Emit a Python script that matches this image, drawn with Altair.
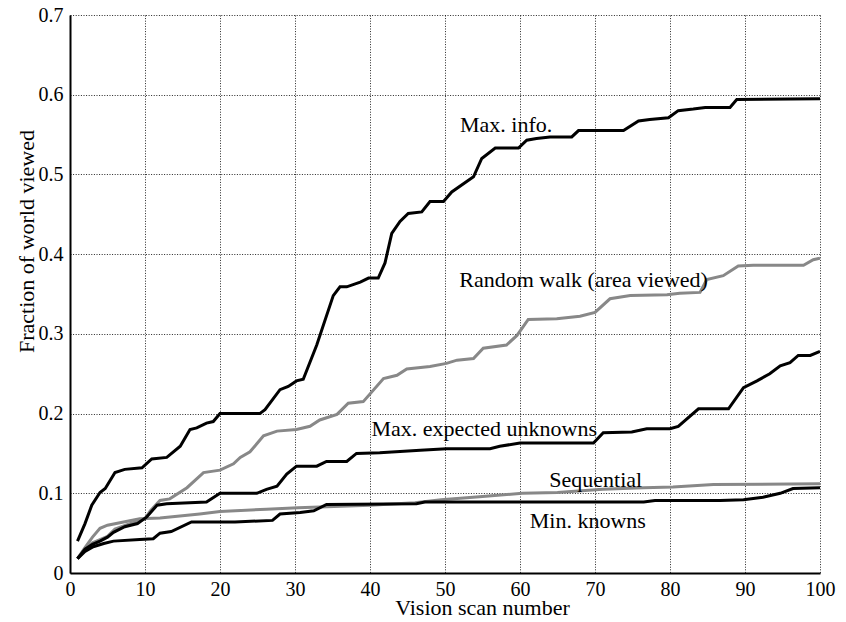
import altair as alt
import pandas as pd

# ---- axis ticks ----
x_ticks = [0, 10, 20, 30, 40, 50, 60, 70, 80, 90, 100]
y_ticks = [0, 0.1, 0.2, 0.3, 0.4, 0.5, 0.6, 0.7]

# ---- series (vertices) ----
maxinfo_x = [1, 2, 2.9, 4, 4.7, 6, 7.3, 9.6, 10.9, 12.9, 14.7, 16, 16.9, 18.2, 19.1, 20, 25.3, 26, 28, 29.1,
             30.2, 31.1, 32.9, 35.1, 36, 36.9, 38.7, 39.8, 41.1, 42, 42.9, 44, 45.1, 46.9, 48, 49.8, 50.9,
             53.8, 54.9, 56.7, 59.8, 60.9, 62.2, 64, 66.9, 67.8, 73.8, 75.8, 77.3, 79.8, 81.1, 83.1, 84.7,
             88, 88.9, 100]
maxinfo_y = [0.04, 0.062, 0.085, 0.101, 0.106, 0.126, 0.13, 0.132, 0.143, 0.145, 0.159, 0.18, 0.182, 0.188,
             0.19, 0.2, 0.2, 0.205, 0.23, 0.234, 0.241, 0.243, 0.286, 0.348, 0.359, 0.359, 0.365, 0.37, 0.37,
             0.389, 0.426, 0.441, 0.451, 0.453, 0.466, 0.466, 0.478, 0.497, 0.52, 0.533, 0.533, 0.543, 0.545,
             0.547, 0.547, 0.555, 0.555, 0.567, 0.569, 0.571, 0.58, 0.582, 0.584, 0.584, 0.594, 0.595]

random_x = [1, 2, 3, 4, 5, 6, 8, 10, 10.7, 12, 13.3, 15.6, 17.8, 20, 21.8, 22.7, 24, 25.8, 27.6, 30.2, 32,
            33.3, 35.6, 37.1, 39.1, 41.8, 43.6, 44.9, 48, 50.2, 51.6, 53.8, 55.1, 58.2, 59.6, 61.1, 64.9, 68,
            70, 72, 74.7, 79.6, 81.3, 84, 84.9, 87.1, 89.1, 91.1, 97.8, 99.1, 100]
random_y = [0.018, 0.03, 0.038, 0.042, 0.046, 0.055, 0.062, 0.068, 0.078, 0.091, 0.093, 0.107, 0.126, 0.129,
            0.137, 0.145, 0.152, 0.172, 0.178, 0.18, 0.184, 0.192, 0.199, 0.213, 0.215, 0.244, 0.248, 0.256,
            0.259, 0.263, 0.267, 0.269, 0.282, 0.286, 0.298, 0.318, 0.319, 0.322, 0.327, 0.344, 0.348, 0.349,
            0.351, 0.352, 0.368, 0.373, 0.385, 0.386, 0.386, 0.393, 0.395]

maxexp_x = [1, 2, 3, 4, 5, 5.8, 7.3, 9, 10.2, 11.6, 12.9, 18.2, 20, 24.9, 26.2, 27.6, 28.9, 30.2, 32.9, 34.2,
            36.9, 38.2, 41.3, 46.7, 50.2, 56, 57.3, 60, 69.8, 71.1, 74.9, 76.9, 80, 81.1, 83.8, 87.8, 89.8,
            91.6, 93.3, 94.7, 96, 97.1, 98.7, 100]
maxexp_y = [0.018, 0.03, 0.036, 0.04, 0.045, 0.051, 0.058, 0.062, 0.07, 0.085, 0.087, 0.089, 0.1, 0.1, 0.105,
            0.109, 0.124, 0.134, 0.134, 0.14, 0.14, 0.15, 0.151, 0.154, 0.156, 0.156, 0.159, 0.163, 0.163,
            0.176, 0.177, 0.181, 0.181, 0.184, 0.206, 0.206, 0.2325, 0.241, 0.25, 0.26, 0.264, 0.273, 0.273,
            0.278]

seq_x = [1, 2, 3, 4, 5, 9.3, 12, 17.3, 20, 26.2, 30.4, 40, 46, 49.5, 55, 60.3, 65, 71, 76.5, 80.4, 85.8, 100]
seq_y = [0.018, 0.032, 0.045, 0.056, 0.06, 0.068, 0.069, 0.074, 0.077, 0.08, 0.082, 0.085, 0.088, 0.092,
         0.096, 0.1, 0.101, 0.105, 0.107, 0.108, 0.111, 0.112]

minkn_x = [1, 2, 3.1, 4.5, 5.8, 9.3, 11.1, 12, 13.5, 16.2, 22, 27, 28, 30.7, 32.5, 34.2, 46.2, 47.3, 76.5,
           78, 86.7, 89.8, 92.4, 94.7, 96.4, 100]
minkn_y = [0.018, 0.027, 0.033, 0.037, 0.04, 0.042, 0.043, 0.05, 0.052, 0.064, 0.064, 0.066, 0.074, 0.076,
           0.078, 0.086, 0.087, 0.089, 0.089, 0.091, 0.091, 0.092, 0.095, 0.1, 0.106, 0.107]

series_names = ["Sequential", "Random walk", "Min. knowns", "Max. expected unknowns", "Max. info."]
series_colors = ["#888888", "#888888", "#000000", "#000000", "#000000"]
series_data = [(seq_x, seq_y), (random_x, random_y), (minkn_x, minkn_y), (maxexp_x, maxexp_y),
               (maxinfo_x, maxinfo_y)]

# ---- in-plot labels ----
label_text = ["Max. info.", "Random walk (area viewed)", "Max. expected unknowns", "Sequential", "Min. knowns"]
label_x = [52, 51.9, 40.2, 63.9, 61.3]
label_y = [0.553, 0.359, 0.1716, 0.108, 0.057]

rows = []
for k, (name, (xs, ys)) in enumerate(zip(series_names, series_data)):
    for i, (a, b) in enumerate(zip(xs, ys)):
        rows.append({"series": name, "scan": a, "frac": b, "i": i, "k": k})
df = pd.DataFrame(rows)

lab = pd.DataFrame({"label": label_text, "scan": label_x, "frac": label_y})

FONT = "Liberation Serif"

xscale = alt.Scale(domain=[0, 100], nice=False, zero=False)
yscale = alt.Scale(domain=[0, 0.7], nice=False, zero=True)

GRID = dict(grid=True, gridColor="#000000", gridDash=[1, 1.6], gridWidth=1, gridOpacity=0.85)

xaxis = alt.Axis(values=x_ticks, format="d", title="Vision scan number",
                 labelFont=FONT, labelFontSize=20, labelColor="black", labelPadding=6,
                 labelFlush=False, labelOverlap=False, ticks=False,
                 domainColor="black", domainWidth=2,
                 titleFont=FONT, titleFontSize=22, titleFontWeight="normal", titleColor="black",
                 titleX=412, titleY=41, titleAlign="center", titleBaseline="alphabetic", **GRID)
yaxis = alt.Axis(values=y_ticks, title="Fraction of world viewed",
                 labelExpr="datum.value == 0 ? '0' : format(datum.value, '.1f')",
                 labelFont=FONT, labelFontSize=20, labelColor="black", labelPadding=7,
                 labelFlush=False, labelOverlap=False, ticks=False,
                 domainColor="black", domainWidth=2,
                 titleFont=FONT, titleFontSize=22, titleFontWeight="normal", titleColor="black",
                 titleAngle=270, titleX=-37, titleY=226, titleAlign="center", titleBaseline="alphabetic",
                 **GRID)

lines = alt.Chart(df).mark_line(strokeWidth=3, clip=True).encode(
    x=alt.X("scan:Q", scale=xscale, axis=xaxis),
    y=alt.Y("frac:Q", scale=yscale, axis=yaxis),
    color=alt.Color("series:N", scale=alt.Scale(domain=series_names, range=series_colors), legend=None),
    detail="series:N",
    order="i:Q",
)

texts = alt.Chart(lab).mark_text(align="left", baseline="alphabetic", font=FONT, fontSize=22,
                                 color="black").encode(
    x=alt.X("scan:Q", scale=xscale, axis=xaxis),
    y=alt.Y("frac:Q", scale=yscale, axis=yaxis),
    text="label:N",
)

chart = alt.layer(lines, texts).properties(
    width=750, height=558,
    autosize=alt.AutoSizeParams(type="none"),
    padding={"left": 62, "top": 7, "right": 16, "bottom": 47},
    background="white",
).configure_view(strokeWidth=0)

chart.save("out.html", embed_options={"renderer": "svg", "actions": False})
